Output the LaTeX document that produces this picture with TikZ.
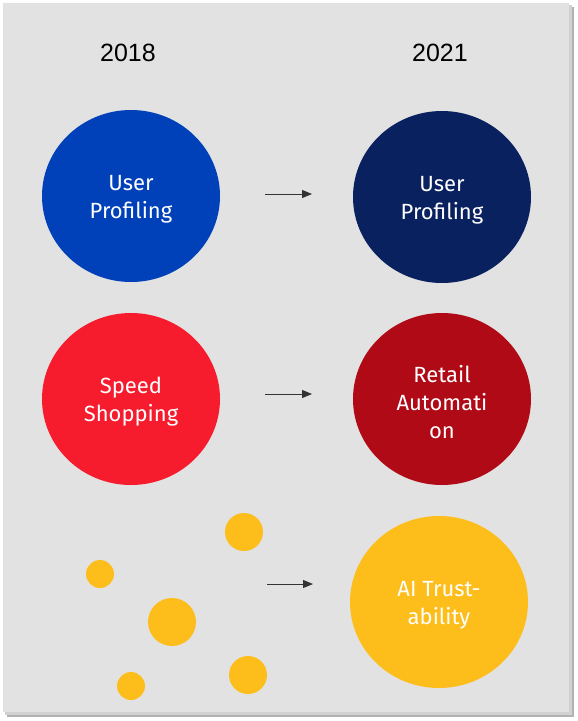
\documentclass[tikz,border=0pt]{standalone}
\usepackage{fontspec}
\setmainfont{Fira Sans}
\newfontfamily\yearfont{Liberation Sans}
\usetikzlibrary{arrows.meta,shapes.geometric}
\definecolor{bgpanel}{HTML}{E2E2E2}
\definecolor{cblue}{HTML}{0041BA}
\definecolor{cnavy}{HTML}{0A2160}
\definecolor{cred}{HTML}{F61C2E}
\definecolor{cdred}{HTML}{B00A16}
\definecolor{cyel}{HTML}{FDBE1C}
\definecolor{carrow}{HTML}{333333}
\tikzset{
  bubble/.style={ellipse, minimum width=178pt, minimum height=172pt, inner sep=0pt},
  lbl/.style={text=white, align=center, font=\fontsize{22}{28}\selectfont},
  dot/.style={circle, fill=cyel, inner sep=0pt},
  yr/.style={font=\yearfont\fontsize{25}{30}\selectfont, text=black},
  flow/.style={draw=carrow, line width=1pt, -{Triangle[length=10pt,width=8pt]}}
}
\begin{document}
\begin{tikzpicture}[x=1pt,y=-1pt]
\useasboundingbox (0,0) rectangle (578,721);
\fill[white] (0,0) rectangle (578,721);
\fill[black!30] (7,7) rectangle (574,717);
\fill[black!18] (5,5) rectangle (572,715);
\fill[bgpanel] (3,3) rectangle (569,712);
\node[yr] (y1) at (128,53) {2018};
\node[yr] (y2) at (440,53) {2021};
\node[bubble, fill=cblue] (a1) at (131,196) {};
\node[lbl] (ta1) at ([yshift=-3pt]a1.center) {User\\Profiling};
\node[bubble, fill=cnavy] (b1) at (442,197) {};
\node[lbl] (tb1) at ([yshift=-3pt]b1.center) {User\\Profiling};
\node[bubble, fill=cred] (a2) at (131,399) {};
\node[lbl] (ta2) at ([yshift=-3pt]a2.center) {Speed\\Shopping};
\node[bubble, fill=cdred] (b2) at (442,399) {};
\node[lbl] (tb2) at ([yshift=-3pt]b2.center) {Retail\\Automati\\on};
\node[bubble, fill=cyel] (b3) at (439,602) {};
\node[lbl] (tb3) at ([yshift=-3pt]b3.center) {AI Trust-\\ability};
\node[dot, minimum size=38pt] (d1) at (244,532) {};
\node[dot, minimum size=28pt] (d2) at (100,574) {};
\node[dot, minimum size=48pt] (d3) at (172,622) {};
\node[dot, minimum size=38pt] (d4) at (248,675) {};
\node[dot, minimum size=28pt] (d5) at (131,686) {};
\coordinate (s1) at (265,194); \coordinate (e1) at (312,194);
\coordinate (s2) at (265,394); \coordinate (e2) at (312,394);
\coordinate (s3) at (267,584); \coordinate (e3) at (313,584);
\draw[flow] (s1) -- (e1);
\draw[flow] (s2) -- (e2);
\draw[flow] (s3) -- (e3);
\end{tikzpicture}
\end{document}
